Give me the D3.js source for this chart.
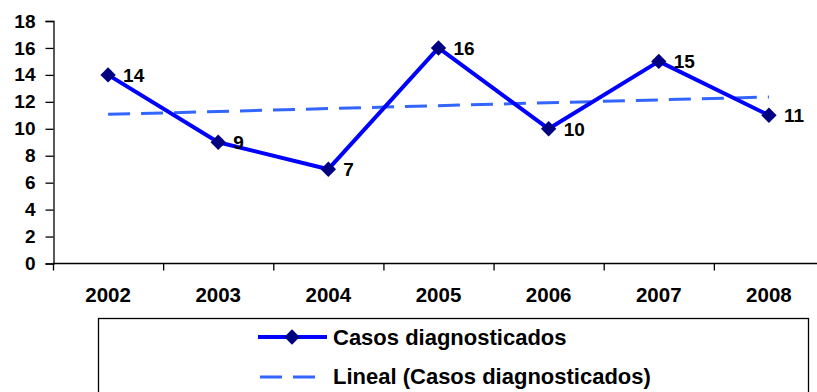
<!DOCTYPE html>
<html>
<head>
<meta charset="utf-8">
<script src="https://cdn.jsdelivr.net/npm/d3@7"></script>
<style>
  html, body { margin: 0; padding: 0; background: #fff; }
  svg { display: block; }
  text { font-family: "Liberation Sans", Arial, sans-serif; font-weight: bold; fill: #000; }
</style>
</head>
<body>
<svg id="chart" width="817" height="392"></svg>
<script>
// ---- data ----
const years = ["2002", "2003", "2004", "2005", "2006", "2007", "2008"];
const casos = [14, 9, 7, 16, 10, 15, 11];
const trendEnds = [11.07, 12.36]; // linear trendline at 2002 and 2008
const yTicks = [0, 2, 4, 6, 8, 10, 12, 14, 16, 18];
const seriesName = "Casos diagnosticados";
const trendName = "Lineal (Casos diagnosticados)";

// ---- layout ----
const svg = d3.select("#chart");
const x = d3.scaleBand().domain(years).range([53, 824]).padding(0);
const y = d3.scaleLinear().domain([0, 18]).range([263.5, 21]);
const cx = d => x(d) + x.bandwidth() / 2;

// y axis
const yAxis = d3.axisLeft(y).tickValues(yTicks).tickSize(8).tickPadding(10);
const gy = svg.append("g").attr("transform", "translate(53.5,0)").call(yAxis);
gy.select(".domain").attr("stroke", "#000").attr("stroke-width", 1.3);
gy.selectAll(".tick line").attr("stroke", "#000").attr("stroke-width", 1.3);
gy.selectAll(".tick text").style("font-size", "19px").attr("dx", "0").attr("fill", "#000")
  .style("font-family", "'Liberation Sans', Arial, sans-serif").style("font-weight", "bold");

// x axis
const gx = svg.append("g").attr("transform", "translate(0,263.5)");
gx.append("line").attr("x1", 53).attr("x2", 824).attr("y1", 0).attr("y2", 0)
  .attr("stroke", "#000").attr("stroke-width", 1.3);
gx.selectAll("line.tk").data(years).enter().append("line").attr("class", "tk")
  .attr("x1", d => x(d) + 0.5).attr("x2", d => x(d) + 0.5)
  .attr("y1", 0).attr("y2", 7).attr("stroke", "#000").attr("stroke-width", 1.3);
gx.selectAll("text").data(years).enter().append("text")
  .attr("x", d => cx(d)).attr("y", 38).attr("text-anchor", "middle")
  .style("font-size", "20.5px").text(d => d);

// trend line
svg.append("line")
  .attr("x1", cx(years[0])).attr("y1", y(trendEnds[0]))
  .attr("x2", cx(years[years.length - 1])).attr("y2", y(trendEnds[1]))
  .attr("stroke", "#3366FF").attr("stroke-width", 3).attr("stroke-dasharray", "22,11");

// series line
const line = d3.line().x((d, i) => cx(years[i])).y(d => y(d));
svg.append("path").datum(casos).attr("d", line)
  .attr("fill", "none").attr("stroke", "#0000FF").attr("stroke-width", 4)
  .attr("stroke-linejoin", "round");

// markers
const diamond = d3.symbol().type(d3.symbolSquare).size(118);
svg.selectAll("path.mk").data(casos).enter().append("path").attr("class", "mk")
  .attr("d", diamond)
  .attr("transform", (d, i) => `translate(${cx(years[i])},${y(d)}) rotate(45)`)
  .attr("fill", "#000080");

// data labels
svg.selectAll("text.lbl").data(casos).enter().append("text").attr("class", "lbl")
  .attr("x", (d, i) => cx(years[i]) + 15).attr("y", d => y(d) + 7)
  .style("font-size", "19px").text(d => d);

// legend
const lg = svg.append("g");
lg.append("rect").attr("x", 98.5).attr("y", 318.5).attr("width", 710).attr("height", 100)
  .attr("fill", "#fff").attr("stroke", "#000").attr("stroke-width", 1.3);
lg.append("line").attr("x1", 258).attr("x2", 327).attr("y1", 337).attr("y2", 337)
  .attr("stroke", "#0000FF").attr("stroke-width", 4);
lg.append("path").attr("d", diamond).attr("transform", "translate(292,337) rotate(45)")
  .attr("fill", "#000080");
lg.append("text").attr("x", 333).attr("y", 345).style("font-size", "22px").text(seriesName);
lg.append("line").attr("x1", 260).attr("x2", 315).attr("y1", 377).attr("y2", 377)
  .attr("stroke", "#3366FF").attr("stroke-width", 3).attr("stroke-dasharray", "22,11");
lg.append("text").attr("x", 333).attr("y", 384).style("font-size", "22px").text(trendName);
</script>
</body>
</html>
